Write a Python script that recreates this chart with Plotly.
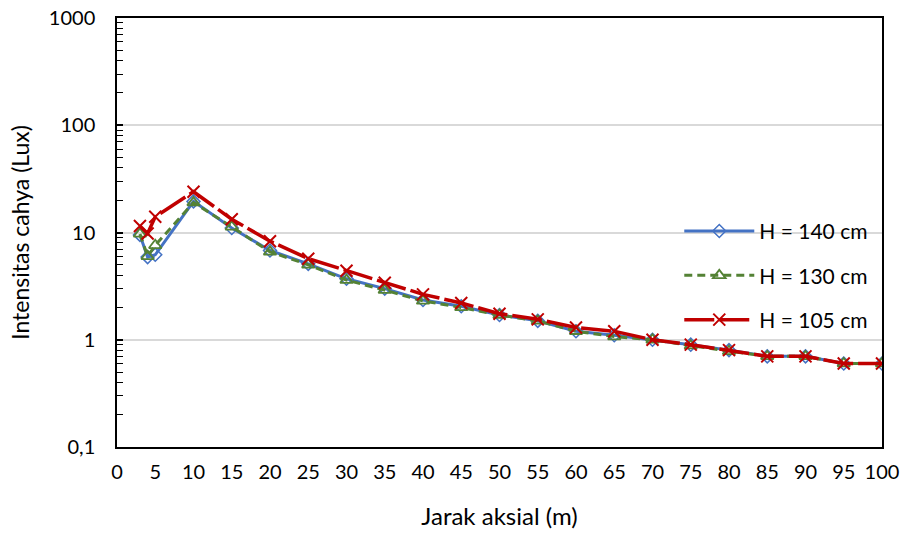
import plotly.graph_objects as go

jarak = [3, 4, 5, 10, 15, 20, 25, 30, 35, 40, 45, 50, 55, 60, 65, 70, 75, 80, 85, 90, 95, 100]
h140 = [9.5, 5.9, 6.2, 19.5, 11.0, 6.8, 5.1, 3.7, 3.0, 2.35, 2.05, 1.7, 1.5, 1.2, 1.1, 1.0, 0.9, 0.8, 0.7, 0.7, 0.6, 0.6]
h130 = [9.7, 6.0, 7.6, 19.0, 11.3, 6.6, 5.0, 3.6, 2.9, 2.3, 2.0, 1.7, 1.5, 1.2, 1.07, 1.0, 0.88, 0.78, 0.7, 0.7, 0.6, 0.6]
h105 = [11.5, 9.8, 14.0, 24.0, 13.3, 8.3, 5.7, 4.4, 3.4, 2.65, 2.2, 1.75, 1.55, 1.3, 1.2, 1.0, 0.9, 0.8, 0.7, 0.7, 0.6, 0.6]
names = ["H = 140 cm", "H = 130 cm", "H = 105 cm"]
x_ticks = list(range(0, 101, 5))
y_ticks = [0.1, 1, 10, 100, 1000]
y_ticktext = ["0,1", "1", "10", "100", "1000"]
y_minor = [k * 10.0 ** d for d in range(-1, 3) for k in range(2, 10)]

FONT = "Lato"

fig = go.Figure()
fig.add_trace(go.Scatter(
    x=jarak, y=h140, name=names[0], mode="lines+markers", legendgroup="a",
    line=dict(color="#4472C4", width=3),
    marker=dict(symbol="diamond-open", size=10, color="#4472C4", line=dict(width=1.5))))
fig.add_trace(go.Scatter(
    x=jarak, y=h130, name=names[1], mode="lines+markers", legendgroup="b",
    line=dict(color="#548235", width=3, dash="8px,5px"),
    marker=dict(symbol="triangle-up-open", size=11, color="#548235", line=dict(width=1.8))))
fig.add_trace(go.Scatter(
    x=jarak, y=h105, name=names[2], mode="lines+markers", legendgroup="c",
    line=dict(color="#C00000", width=3.5, dash="30px,5px"),
    marker=dict(symbol="x-thin-open", size=12, color="#C00000", line=dict(width=2, color="#C00000"))))

fig.update_layout(
    width=906, height=534,
    margin=dict(l=117, r=24, t=18, b=87),
    plot_bgcolor="white", paper_bgcolor="white",
    font=dict(family=FONT, size=20, color="black"),
    legend=dict(x=0.735, y=0.40, xanchor="left", yanchor="middle",
                bgcolor="rgba(0,0,0,0)", tracegroupgap=14,
                font=dict(family=FONT, size=21), itemwidth=70),
    xaxis=dict(range=[0, 100], tickvals=x_ticks, ticks="", showgrid=False,
               showline=True, linecolor="black", linewidth=1.5, mirror=True,
               zeroline=False, ticklabelstandoff=6, automargin=False,
               title=dict(text="Jarak aksial (m)", font=dict(size=24), standoff=26),
               tickfont=dict(size=20)),
    yaxis=dict(type="log", range=[-1, 3], tickvals=y_ticks, ticktext=y_ticktext,
               showgrid=True, gridcolor="#D9D9D9", gridwidth=1.5,
               showline=True, linecolor="black", linewidth=1.5, mirror=True,
               ticks="inside", ticklen=6, tickcolor="black", tickwidth=1.5,
               minor=dict(tickvals=y_minor, ticks="inside", ticklen=6,
                          tickcolor="black", tickwidth=1.2, showgrid=False),
               zeroline=False, ticklabelstandoff=16, automargin=False,
               title=dict(text="Intensitas cahya (Lux)", font=dict(size=23), standoff=13),
               tickfont=dict(size=20)),
)

fig.write_html("out.html")
